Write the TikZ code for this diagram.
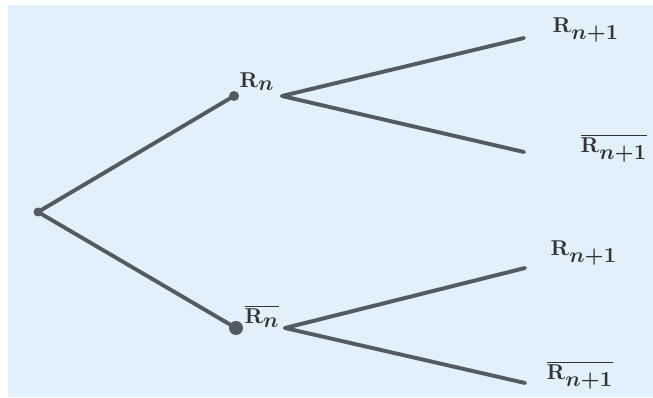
\documentclass[tikz,border=0pt]{standalone}
\usepackage{graphicx}
\usepackage{amsmath}
\definecolor{bgblue}{RGB}{226,240,252}
\definecolor{linegray}{RGB}{84,90,98}
\definecolor{textgray}{RGB}{50,52,55}
\newcommand\lblsc[1]{\scalebox{2.15}{\boldmath#1}}
\tikzset{
  branch/.style={draw=linegray, line width=3.9pt, line cap=round},
  lbl/.style={text=textgray, inner sep=0pt},
}
\begin{document}
\begin{tikzpicture}[x=1pt,y=-1pt]
\useasboundingbox (0,0) rectangle (653,398);
\fill[bgblue] (8,5) rectangle (653,397);
% points
\coordinate (root) at (38,212);
\coordinate (a) at (234,96);
\coordinate (b) at (236,328);
\coordinate (ao) at (282,96);
\coordinate (bo) at (285,328);
\coordinate (a1) at (524,38);
\coordinate (a2) at (524,152);
\coordinate (b1) at (525,268);
\coordinate (b2) at (525,383);
% connectors
\draw[branch] (root) -- (a);
\draw[branch] (root) -- (b);
\draw[branch] (ao) -- (a1);
\draw[branch] (ao) -- (a2);
\draw[branch] (bo) -- (b1);
\draw[branch] (bo) -- (b2);
% dots
\fill[linegray] (root) circle (4.5);
\fill[linegray] (a) circle (5);
\fill[linegray] (b) circle (7);
% labels
\node[lbl] (la) at (257,82) {\lblsc{$\mathrm{R}_{\textstyle n}$}};
\node[lbl] (lb) at (262,316) {\lblsc{$\overline{\mathrm{R}_{\textstyle n}}$}};
\node[lbl] (la1) at (586,30) {\lblsc{$\mathrm{R}_{\textstyle n{+}1}$}};
\node[lbl] (la2) at (614,148) {\lblsc{$\overline{\mathrm{R}_{\textstyle n{+}1}}$}};
\node[lbl] (lb1) at (584,253) {\lblsc{$\mathrm{R}_{\textstyle n{+}1}$}};
\node[lbl] (lb2) at (580,375) {\lblsc{$\overline{\mathrm{R}_{\textstyle n{+}1}}$}};
\end{tikzpicture}
\end{document}
